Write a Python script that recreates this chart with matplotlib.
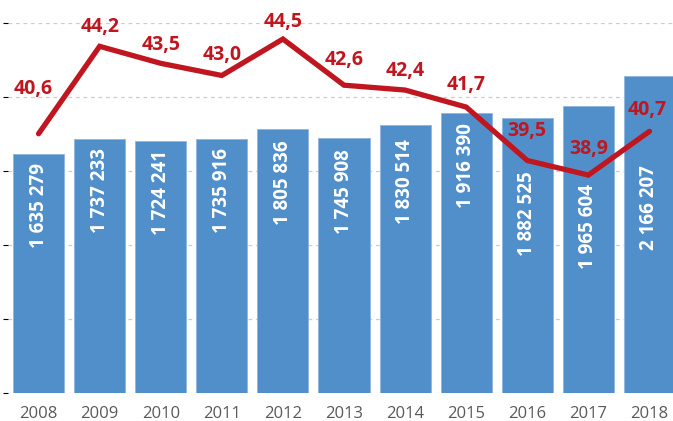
import matplotlib.pyplot as plt
import numpy as np

plt.rcParams["font.family"] = ["Open Sans", "DejaVu Sans"]

YEARS = ["2008", "2009", "2010", "2011", "2012", "2013", "2014", "2015", "2016", "2017", "2018"]
COUNTS = [1635279, 1737233, 1724241, 1735916, 1805836, 1745908, 1830514, 1916390, 1882525, 1965604, 2166207]
SHARE = [40.6, 44.2, 43.5, 43.0, 44.5, 42.6, 42.4, 41.7, 39.5, 38.9, 40.7]

BAR_COLOR = "#518fcb"
LINE_COLOR = "#c0161f"
TICK_COLOR = "#5a5a5a"
GRID_COLOR = "#cccccc"

# label placement tweaks (pixels)
BAR_LABEL_DROP = [9, 9, 9, 9, 11, 11, 14, 10, 53, 78, 89]
LINE_LABEL_RISE = [45, 19, 18, 20, 17, 25, 19, 22, 30, 26, 21]
LINE_LABEL_SHIFT = [-5, 0, 0, 0, 0, 0, 0, 0, 0, 0, -2]


def fmt_count(v):
    return f"{v:,}".replace(",", " ")


def fmt_share(v):
    return f"{v:.1f}".replace(".", ",")


W, H = 673, 421
fig = plt.figure(figsize=(W / 100, H / 100), dpi=100)
ax = fig.add_axes([8 / W, 28 / H, 672 / W, 370 / H])

x = np.arange(len(YEARS))
ymax = 2.531e6
ax.bar(x, COUNTS, width=0.835, color=BAR_COLOR, edgecolor="#8fb6e0", linewidth=0.6, zorder=2)
ax.set_xlim(-0.5, 10.5)
ax.set_ylim(0, ymax)
ax.set_yticks(np.linspace(0, ymax, 6))
ax.grid(axis="y", color=GRID_COLOR, linestyle=(0, (3, 3)), linewidth=0.9, zorder=0)
ax.set_axisbelow(True)
ax.tick_params(axis="y", left=False, labelleft=False)
ax.tick_params(axis="x", bottom=False, labelsize=12, labelcolor=TICK_COLOR, pad=6)
ax.set_xticks(x)
ax.set_xticklabels(YEARS)
for s in ax.spines.values():
    s.set_visible(False)

for i, v in enumerate(COUNTS):
    ax.annotate(fmt_count(v), (x[i], v), xytext=(0, -BAR_LABEL_DROP[i]),
                textcoords="offset pixels", rotation=90, ha="center", va="top",
                color="white", fontsize=13.5, fontweight="bold", zorder=3)

ax2 = ax.twinx()
ax2.set_ylim(29.93, 45.16)
ax2.axis("off")
ax2.plot(x, SHARE, color=LINE_COLOR, linewidth=3.8, solid_capstyle="round",
         solid_joinstyle="miter", zorder=4)
for i, v in enumerate(SHARE):
    ax2.annotate(fmt_share(v), (x[i], v), xytext=(LINE_LABEL_SHIFT[i], LINE_LABEL_RISE[i]),
                 textcoords="offset pixels", ha="center", va="center",
                 color=LINE_COLOR, fontsize=14, fontweight="bold", zorder=5)

fig.savefig("out.png", dpi=100)
